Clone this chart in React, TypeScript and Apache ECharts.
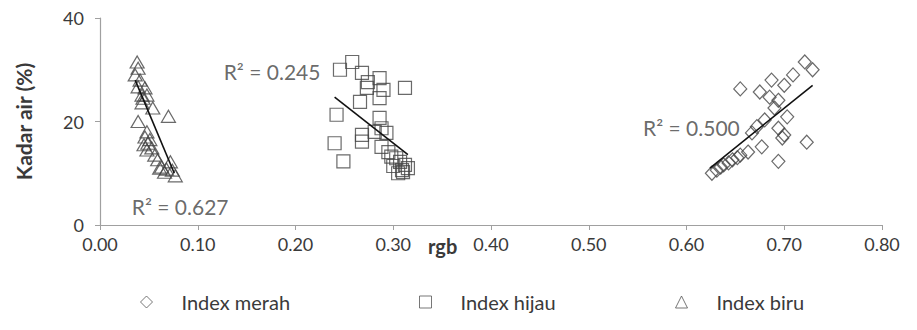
import React, { useEffect, useRef } from "react";
import * as echarts from "echarts";

const merahX = [0.721, 0.729, 0.709, 0.700, 0.687, 0.655, 0.675, 0.685, 0.694, 0.690, 0.703, 0.680, 0.672, 0.667, 0.694, 0.700, 0.698, 0.723, 0.694, 0.677, 0.663, 0.655, 0.647, 0.638, 0.631, 0.626, 0.635, 0.643, 0.652];
const merahY = [31.5, 30.0, 29.0, 27.0, 28.0, 26.3, 25.7, 24.7, 24.1, 22.6, 20.9, 20.3, 19.0, 17.8, 18.7, 17.4, 16.8, 16.0, 12.3, 15.1, 14.1, 13.5, 12.6, 11.6, 10.6, 10.0, 11.2, 12.0, 13.0];

const hijauX = [0.2455, 0.258, 0.268, 0.274, 0.286, 0.290, 0.312, 0.273, 0.286, 0.266, 0.242, 0.286, 0.288, 0.293, 0.268, 0.268, 0.240, 0.249, 0.288, 0.295, 0.298, 0.303, 0.307, 0.312, 0.309, 0.305, 0.315, 0.281, 0.300, 0.310];
const hijauY = [30.0, 31.5, 29.4, 27.6, 28.4, 26.1, 26.5, 26.5, 24.5, 23.8, 21.3, 20.7, 18.7, 17.8, 17.4, 16.1, 15.8, 12.3, 15.1, 14.1, 13.2, 12.9, 12.2, 11.6, 10.6, 10.0, 11.0, 18.0, 11.4, 10.2];

const biruX = [0.038, 0.039, 0.036, 0.041, 0.039, 0.046, 0.048, 0.044, 0.043, 0.054, 0.070, 0.039, 0.048, 0.046, 0.049, 0.053, 0.048, 0.056, 0.059, 0.063, 0.072, 0.074, 0.066, 0.077, 0.043, 0.051, 0.061, 0.068, 0.045];
const biruY = [31.5, 30.3, 29.0, 28.0, 26.7, 26.5, 25.1, 24.5, 23.6, 22.6, 21.0, 20.0, 18.0, 17.0, 15.8, 14.9, 14.5, 13.5, 12.6, 11.2, 12.2, 10.6, 10.2, 9.5, 25.1, 16.5, 11.0, 10.8, 15.5];

const trendMerah = [[0.624, 11.0], [0.729, 27.0]];
const trendHijau = [[0.240, 24.7], [0.315, 13.6]];
const trendBiru = [[0.036, 28.0], [0.076, 10.0]];

const seriesNames = ["Index merah", "Index hijau", "Index biru"];
const r2Labels = ["R\u00b2 = 0.500", "R\u00b2 = 0.245", "R\u00b2 = 0.627"];
const r2Pos = [[0.605, 18.9], [0.176, 29.6], [0.082, 3.5]];

const xTicks = { min: 0, max: 0.8, interval: 0.1 };
const yTicks = { min: 0, max: 40, interval: 20 };

const FONT = "Lato, 'Open Sans', sans-serif";
const MARK = "#454545";
const TEXT = "#3a3a3a";

function zip(xs: number[], ys: number[]) {
  return xs.map((x, i) => [x, ys[i]]);
}

export default function App() {
  const ref = useRef<HTMLDivElement>(null);
  useEffect(() => {
    if (!ref.current) return;
    const chart = echarts.init(ref.current, undefined, { renderer: "svg" });
    const hollow = { color: "rgba(255,255,255,0)", borderColor: MARK, borderWidth: 1.2 };
    const legendBase = {
      orient: "horizontal" as const,
      top: 287,
      itemWidth: 12,
      itemHeight: 12,
      itemStyle: { color: "rgba(255,255,255,0)", borderColor: "#555", borderWidth: 1 },
      textStyle: { fontFamily: FONT, fontSize: 20, color: TEXT, padding: [0, 0, 0, 24] },
    };
    chart.setOption({
      animation: false,
      grid: { left: 100, right: 35, top: 18, bottom: 105, containLabel: false },
      legend: [
        { ...legendBase, left: 135, data: [seriesNames[0]] },
        { ...legendBase, left: 414, data: [seriesNames[1]] },
        { ...legendBase, left: 670, data: [seriesNames[2]] },
      ],
      xAxis: {
        type: "value",
        min: xTicks.min,
        max: xTicks.max,
        interval: xTicks.interval,
        splitLine: { show: false },
        axisLine: { lineStyle: { color: "#a0a0a0", width: 1.2 } },
        axisTick: { show: true, length: 5, lineStyle: { color: "#a0a0a0" } },
        axisLabel: {
          formatter: (v: number) => v.toFixed(2),
          fontFamily: FONT,
          fontSize: 18,
          color: TEXT,
          margin: 10,
        },
      },
      yAxis: {
        type: "value",
        min: yTicks.min,
        max: yTicks.max,
        interval: yTicks.interval,
        name: "Kadar air (%)",
        nameLocation: "middle",
        nameGap: 66,
        nameTextStyle: { fontFamily: FONT, fontSize: 21, fontWeight: "bold", color: TEXT },
        splitLine: { show: false },
        axisLine: { show: true, lineStyle: { color: "#a0a0a0", width: 1.2 } },
        axisTick: { show: true, length: 5, lineStyle: { color: "#a0a0a0" } },
        axisLabel: { fontFamily: FONT, fontSize: 18, color: TEXT, margin: 16 },
      },
      graphic: [
        {
          type: "text",
          left: 428,
          top: 236,
          style: { text: "rgb", fontFamily: FONT, fontSize: 20, fontWeight: "bold", fill: TEXT },
        },
      ],
      series: [
        {
          name: seriesNames[0],
          type: "scatter",
          symbol: "diamond",
          symbolSize: [13, 14],
          itemStyle: hollow,
          data: zip(merahX, merahY),
          z: 2,
        },
        {
          name: seriesNames[1],
          type: "scatter",
          symbol: "rect",
          symbolSize: 13,
          itemStyle: hollow,
          data: zip(hijauX, hijauY),
          z: 2,
        },
        {
          name: seriesNames[2],
          type: "scatter",
          symbol: "triangle",
          symbolSize: [14, 12],
          itemStyle: hollow,
          data: zip(biruX, biruY),
          z: 2,
        },
        ...[trendMerah, trendHijau, trendBiru].map((d) => ({
          type: "line",
          data: d,
          symbol: "none",
          lineStyle: { color: "#111", width: 1.6 },
          z: 3,
        })),
        {
          type: "scatter",
          symbolSize: 0,
          silent: true,
          data: r2Pos.map((p, i) => ({ value: p, label: { formatter: r2Labels[i] } })),
          label: {
            show: true,
            position: "inside",
            fontFamily: FONT,
            fontSize: 21,
            color: "#444",
          },
          z: 5,
        },
      ],
    });
    return () => chart.dispose();
  }, []);
  return (
    <div
      ref={ref}
      style={{ position: "absolute", left: 0, top: 0, width: 917, height: 330 }}
    />
  );
}
